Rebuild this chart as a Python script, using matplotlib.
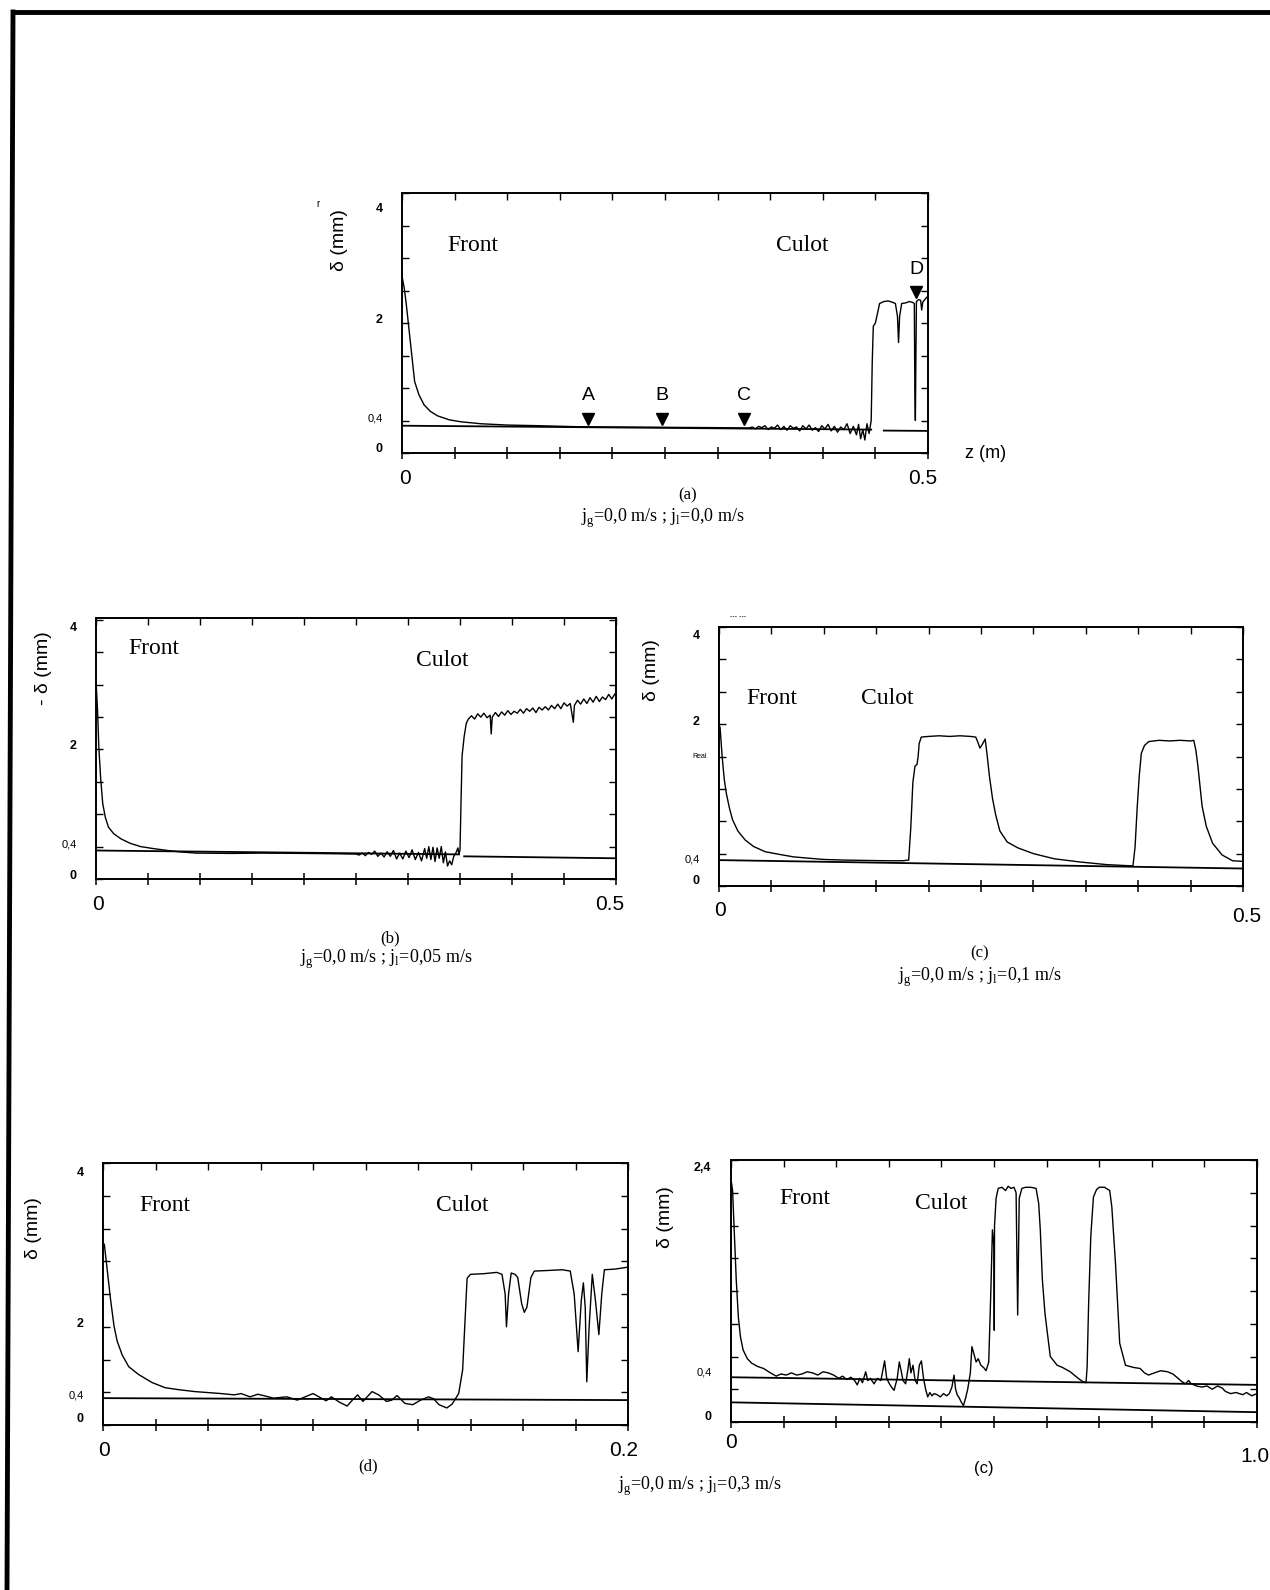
import numpy as np
import matplotlib
matplotlib.use("Agg")
import matplotlib.pyplot as plt
from matplotlib.lines import Line2D
from matplotlib.ticker import MultipleLocator

plt.rcParams['mathtext.fontset'] = 'custom'
plt.rcParams['mathtext.rm'] = 'Liberation Serif'
SANS = 'Liberation Sans'
SERIF = 'Liberation Serif'

# ---------------- data (panel a) ----------------
a_x = [0, 0.002, 0.004, 0.006, 0.009, 0.012, 0.016, 0.021, 0.027, 0.034, 0.045, 0.056, 0.075, 0.10, 0.13,
       0.165, 0.20, 0.25, 0.30, 0.33,
       0.333, 0.336, 0.339, 0.342, 0.345, 0.348, 0.351, 0.354, 0.357, 0.360, 0.363, 0.366, 0.369, 0.372,
       0.375, 0.378, 0.381, 0.384, 0.387, 0.390, 0.393, 0.396, 0.399, 0.402, 0.405, 0.408, 0.411, 0.414,
       0.417, 0.420, 0.423, 0.426, 0.429, 0.432, 0.434, 0.436, 0.438, 0.440, 0.442, 0.444, 0.446,
       0.447, 0.448, 0.450, 0.452, 0.454, 0.458, 0.462, 0.466, 0.469, 0.471, 0.472, 0.473, 0.475, 0.479,
       0.482, 0.485, 0.487, 0.4875, 0.488, 0.4885, 0.489, 0.491, 0.493, 0.494, 0.495, 0.497, 0.499, 0.5]
a_y = [2.72, 2.55, 2.30, 2.00, 1.55, 1.10, 0.90, 0.74, 0.64, 0.57, 0.51, 0.48, 0.45, 0.43, 0.42,
       0.405, 0.40, 0.395, 0.39, 0.385,
       0.40, 0.37, 0.41, 0.39, 0.42, 0.36, 0.40, 0.38, 0.43, 0.36, 0.41, 0.35, 0.42, 0.38,
       0.40, 0.34, 0.42, 0.37, 0.43, 0.35, 0.39, 0.33, 0.42, 0.37, 0.44, 0.34, 0.41, 0.32,
       0.40, 0.36, 0.45, 0.30, 0.41, 0.28, 0.44, 0.22, 0.36, 0.20, 0.45, 0.30, 0.50,
       1.40, 1.95, 2.00, 2.15, 2.30, 2.33, 2.34, 2.32, 2.30, 2.10, 1.70, 2.10, 2.30, 2.31,
       2.33, 2.32, 2.30, 1.00, 0.50, 1.50, 2.33, 2.36, 2.35, 2.20, 2.32, 2.36, 2.40, 2.38]
a_ref1_x = [0, 0.446]
a_ref1_y = [0.42, 0.36]
a_ref2_x = [0.458, 0.5]
a_ref2_y = [0.345, 0.34]
a_mark_labels = ['A', 'B', 'C', 'D']
a_mark_x = [0.177, 0.247, 0.325, 0.489]
a_mark_y = [0.53, 0.53, 0.53, 2.47]

# ---------------- data (panel b) ----------------
b_x = [0, 0.0015, 0.0027, 0.0045, 0.0065, 0.009, 0.012, 0.017, 0.024, 0.033, 0.043, 0.055, 0.069, 0.08,
       0.096, 0.13, 0.16, 0.2, 0.23, 0.25,
       0.253, 0.256, 0.259, 0.262, 0.265, 0.268, 0.271, 0.274, 0.277, 0.280, 0.283, 0.286, 0.289, 0.292,
       0.295, 0.298, 0.301, 0.304, 0.307, 0.310, 0.313, 0.316, 0.318, 0.320, 0.322, 0.324, 0.326, 0.328,
       0.330, 0.332, 0.334, 0.336, 0.338, 0.340, 0.342, 0.344, 0.346, 0.348, 0.349, 0.350,
       0.351, 0.352, 0.354, 0.356, 0.358,
       0.361, 0.364, 0.367, 0.370, 0.373, 0.376, 0.379, 0.380, 0.381, 0.384, 0.387, 0.390, 0.393, 0.396,
       0.399, 0.402, 0.405, 0.408, 0.411, 0.414, 0.417, 0.420, 0.423, 0.426, 0.429, 0.432, 0.435, 0.438,
       0.441, 0.444, 0.447, 0.450, 0.453, 0.456, 0.459, 0.460, 0.463, 0.466, 0.469, 0.472, 0.475, 0.478,
       0.481, 0.484, 0.487, 0.490, 0.493, 0.496, 0.499, 0.5]
b_y = [3.07, 2.60, 2.04, 1.55, 1.16, 0.95, 0.80, 0.70, 0.62, 0.55, 0.50, 0.47, 0.44, 0.42,
       0.40, 0.395, 0.40, 0.395, 0.39, 0.385,
       0.37, 0.40, 0.36, 0.41, 0.38, 0.43, 0.35, 0.40, 0.34, 0.42, 0.35, 0.44, 0.31, 0.40,
       0.31, 0.43, 0.33, 0.45, 0.30, 0.41, 0.28, 0.47, 0.32, 0.50, 0.30, 0.49, 0.27, 0.48,
       0.32, 0.50, 0.25, 0.42, 0.20, 0.28, 0.22, 0.35, 0.40, 0.48, 0.38, 0.45,
       1.20, 1.90, 2.20, 2.40, 2.47,
       2.52, 2.47, 2.55, 2.50, 2.56, 2.49, 2.53, 2.24, 2.50, 2.57, 2.51, 2.58, 2.53, 2.60,
       2.54, 2.59, 2.56, 2.62, 2.56, 2.63, 2.59, 2.64, 2.57, 2.65, 2.61, 2.66, 2.61, 2.68,
       2.63, 2.70, 2.63, 2.72, 2.67, 2.71, 2.42, 2.68, 2.76, 2.70, 2.78, 2.71, 2.80, 2.73,
       2.82, 2.74, 2.81, 2.77, 2.85, 2.78, 2.86, 2.82]
b_ref1_x = [0, 0.349]
b_ref1_y = [0.44, 0.38]
b_ref2_x = [0.354, 0.5]
b_ref2_y = [0.35, 0.32]

# ---------------- data (panel c) ----------------
c_x = [0, 0.001, 0.003, 0.005, 0.007, 0.010, 0.013, 0.018, 0.025, 0.033, 0.044, 0.057, 0.071, 0.085,
       0.10, 0.12, 0.14, 0.16, 0.175, 0.181, 0.183, 0.185, 0.187, 0.189, 0.190, 0.191, 0.193,
       0.20, 0.21, 0.22, 0.23, 0.24, 0.245, 0.247, 0.249, 0.251, 0.254,
       0.256, 0.258, 0.261, 0.264, 0.268, 0.275, 0.285, 0.30, 0.32, 0.345, 0.37, 0.395,
       0.397, 0.399, 0.401, 0.403, 0.406, 0.41, 0.42, 0.43, 0.44, 0.45, 0.453,
       0.455, 0.457, 0.459, 0.461, 0.465, 0.471, 0.480, 0.490, 0.5]
c_y = [2.49, 2.45, 2.00, 1.65, 1.43, 1.20, 1.02, 0.85, 0.71, 0.61, 0.53, 0.49, 0.45, 0.43,
       0.41, 0.40, 0.395, 0.39, 0.39, 0.40, 0.90, 1.60, 1.85, 1.88, 2.00, 2.20, 2.30,
       2.31, 2.32, 2.31, 2.32, 2.31, 2.30, 2.22, 2.13, 2.18, 2.27,
       2.00, 1.70, 1.35, 1.10, 0.85, 0.68, 0.59, 0.50, 0.42, 0.37, 0.33, 0.31,
       0.60, 1.20, 1.70, 2.05, 2.17, 2.23, 2.25, 2.24, 2.25, 2.24, 2.25,
       2.10, 1.85, 1.54, 1.23, 0.92, 0.66, 0.48, 0.39, 0.38]
c_ref_x = [0, 0.5]
c_ref_y = [0.40, 0.27]

# ---------------- data (panel d) ----------------
d_x = [0.0005, 0.0016, 0.0029, 0.0042, 0.0054, 0.0073, 0.0098, 0.0136, 0.0186, 0.0236, 0.0287, 0.035,
       0.045, 0.050, 0.0526, 0.056, 0.059, 0.065, 0.070, 0.074, 0.080, 0.085, 0.087, 0.090, 0.093, 0.095,
       0.097, 0.099, 0.1025, 0.105, 0.108, 0.110, 0.112, 0.115, 0.118, 0.121, 0.124, 0.126, 0.128,
       0.131, 0.133, 0.1355, 0.137, 0.1387, 0.140, 0.145, 0.150, 0.152, 0.1532, 0.1537, 0.1545, 0.1555,
       0.157, 0.158, 0.1595, 0.1605, 0.1615, 0.163, 0.1643, 0.170, 0.175, 0.178, 0.1795, 0.181, 0.1822,
       0.183, 0.1837, 0.1843, 0.1852, 0.1864, 0.1876, 0.1889, 0.1900, 0.191, 0.195, 0.2]
d_y = [2.76, 2.37, 1.91, 1.51, 1.28, 1.07, 0.89, 0.77, 0.65, 0.57, 0.54, 0.51,
       0.48, 0.46, 0.48, 0.43, 0.47, 0.41, 0.43, 0.38, 0.48, 0.37, 0.43, 0.35, 0.29, 0.38,
       0.46, 0.36, 0.51, 0.46, 0.36, 0.38, 0.45, 0.33, 0.31, 0.38, 0.43, 0.40, 0.31,
       0.26, 0.32, 0.48, 0.84, 2.24, 2.30, 2.31, 2.33, 2.30, 2.00, 1.50, 2.00, 2.32,
       2.30, 2.25, 1.85, 1.72, 1.80, 2.25, 2.35, 2.36, 2.37, 2.35, 2.00, 1.12, 1.90,
       2.17, 1.80, 0.66, 1.50, 2.30, 1.90, 1.38, 2.00, 2.37, 2.38, 2.41]
d_ref_x = [0, 0.2]
d_ref_y = [0.41, 0.38]

# ---------------- data (panel e) ----------------
e_x = [0.001, 0.003, 0.006, 0.010, 0.014, 0.018, 0.023, 0.031, 0.039, 0.050, 0.062, 0.075, 0.086, 0.095,
       0.105, 0.115, 0.125, 0.135, 0.145, 0.155, 0.165, 0.175, 0.185, 0.195, 0.205, 0.212, 0.220, 0.228,
       0.235, 0.240, 0.245, 0.250, 0.256, 0.260, 0.265, 0.272, 0.278, 0.285, 0.292, 0.296, 0.300, 0.305,
       0.310, 0.316, 0.320, 0.323, 0.327, 0.332, 0.336, 0.339, 0.342, 0.346, 0.350, 0.354, 0.358, 0.362,
       0.366, 0.370, 0.374, 0.378, 0.382, 0.386, 0.392, 0.398, 0.404, 0.410, 0.415, 0.420, 0.424, 0.427,
       0.430, 0.434, 0.438, 0.442, 0.446, 0.450, 0.455, 0.458, 0.462, 0.466, 0.470, 0.475, 0.480, 0.485,
       0.490, 0.494, 0.497, 0.500, 0.5005, 0.501, 0.504, 0.508, 0.515, 0.522, 0.527, 0.532, 0.538, 0.542,
       0.545, 0.548, 0.553, 0.560, 0.570, 0.580, 0.585, 0.588, 0.592, 0.597, 0.607, 0.62, 0.63, 0.645,
       0.66, 0.669, 0.675, 0.677, 0.680, 0.684, 0.689, 0.695, 0.70, 0.71, 0.72, 0.724, 0.731, 0.739,
       0.75, 0.765, 0.778, 0.786, 0.794, 0.805, 0.817, 0.83, 0.84, 0.85, 0.857, 0.864, 0.870, 0.875,
       0.885, 0.895, 0.905, 0.915, 0.925, 0.934, 0.94, 0.95, 0.96, 0.973, 0.98, 0.99, 1.0]
e_y = [2.19, 2.12, 1.76, 1.30, 0.96, 0.78, 0.66, 0.58, 0.54, 0.51, 0.49, 0.45, 0.42, 0.44,
       0.43, 0.45, 0.43, 0.44, 0.46, 0.45, 0.43, 0.46, 0.45, 0.43, 0.40, 0.42, 0.39, 0.41,
       0.38, 0.34, 0.40, 0.36, 0.46, 0.38, 0.40, 0.35, 0.40, 0.38, 0.56, 0.40, 0.36, 0.32,
       0.29, 0.40, 0.55, 0.48, 0.38, 0.35, 0.47, 0.58, 0.45, 0.52, 0.38, 0.35, 0.52, 0.56,
       0.40, 0.30, 0.23, 0.27, 0.24, 0.26, 0.25, 0.23, 0.26, 0.24, 0.26, 0.32, 0.43, 0.30,
       0.25, 0.22, 0.18, 0.15, 0.22, 0.30, 0.45, 0.69, 0.62, 0.55, 0.58, 0.52, 0.50, 0.47,
       0.55, 1.20, 1.76, 1.60, 0.84, 1.80, 2.05, 2.14, 2.15, 2.12, 2.16, 2.14, 2.15, 2.10,
       0.98, 2.05, 2.14, 2.15, 2.15, 2.14, 2.00, 1.76, 1.30, 0.99, 0.60, 0.52, 0.50, 0.46,
       0.40, 0.37, 0.36, 0.50, 1.10, 1.70, 2.06, 2.13, 2.15, 2.15, 2.12, 1.97, 1.45, 0.72,
       0.52, 0.50, 0.49, 0.45, 0.43, 0.45, 0.47, 0.46, 0.44, 0.40, 0.37, 0.35, 0.38, 0.35,
       0.33, 0.32, 0.33, 0.30, 0.33, 0.31, 0.28, 0.26, 0.27, 0.25, 0.27, 0.24, 0.26]
e_ref1_x = [0, 1.0]
e_ref1_y = [0.41, 0.34]
e_ref2_x = [0, 1.0]
e_ref2_y = [0.18, 0.09]

# tick label texts and positions as they appear on each panel
a_ytick_pos = [3.78, 2.07, 0.55, 0.09]
a_ytick_lab = ['4', '2', '0,4', '0']
b_ytick_pos = [3.90, 2.07, 0.55, 0.07]
b_ytick_lab = ['4', '2', '0,4', '0']
c_ytick_pos = [3.88, 2.55, 0.43, 0.10]
c_ytick_lab = ['4', '2', '0,4', '0']
d_ytick_pos = [3.87, 1.57, 0.46, 0.12]
d_ytick_lab = ['4', '2', '0,4', '0']
e_ytick_pos = [2.34, 0.46, 0.06]
e_ytick_lab = ['2,4', '0,4', '0']

W, H = 1270, 1590
fig = plt.figure(figsize=(W / 100, H / 100), dpi=100)


def rect(l, t, r, b):
    return [l / W, 1 - b / H, (r - l) / W, (b - t) / H]


def ft(x, y, s, **kw):
    kw.setdefault('ha', 'center')
    kw.setdefault('va', 'center')
    fig.text(x / W, 1 - y / H, s, **kw)


def panel(r, xmax, xstep, ymax, ystep, ypos, ylab):
    ax = fig.add_axes(rect(*r))
    ax.set_xlim(0, xmax)
    ax.set_ylim(0, ymax)
    for s in ax.spines.values():
        s.set_linewidth(1.4)
    ax.xaxis.set_major_locator(MultipleLocator(xstep))
    ax.tick_params(axis='x', which='major', direction='inout', length=9, width=1.1,
                   bottom=True, top=False, labelbottom=False)
    ax.yaxis.remove_overlapping_locs = False
    ax.yaxis.set_minor_locator(MultipleLocator(ystep))
    ax.tick_params(axis='y', which='minor', direction='in', length=5, width=1.0,
                   left=True, right=True)
    ax.set_yticks(ypos)
    ax.set_yticklabels(ylab)
    ax.tick_params(axis='y', which='major', length=0, pad=14)
    for t in ax.get_yticklabels():
        t.set_family(SANS)
        if t.get_text() == '0,4':
            t.set_fontsize(8)
        else:
            t.set_fontsize(9)
            t.set_fontweight('bold')
    axt = ax.twiny()
    axt.set_xlim(0, xmax)
    axt.xaxis.set_major_locator(MultipleLocator(xstep))
    axt.tick_params(axis='x', direction='in', length=5, width=1.0, labeltop=False)
    for s in axt.spines.values():
        s.set_visible(False)
    return ax


lk = dict(color='black', lw=1.0)

# ---- (a)
ax = panel((402, 193, 928, 453), 0.5, 0.05, 4.0, 0.5, a_ytick_pos, a_ytick_lab)
ax.plot(a_x, a_y, **lk)
ax.plot(a_ref1_x, a_ref1_y, color='black', lw=1.3)
ax.plot(a_ref2_x, a_ref2_y, color='black', lw=1.3)
ax.plot(a_mark_x, a_mark_y, 'v', color='black', ms=9, ls='none')
for lab, mx, my in zip(a_mark_labels, a_mark_x, a_mark_y):
    ax.text(mx, my + 0.36, lab, ha='center', va='center', fontsize=14, family=SANS)
ax.text(0.067, 3.2, 'Front', ha='center', va='center', fontsize=17, family=SERIF)
ax.text(0.38, 3.2, 'Culot', ha='center', va='center', fontsize=17, family=SERIF)
ft(339, 240, 'δ (mm)', rotation=90, fontsize=14, family=SANS)
ft(318, 204, 'r', fontsize=7, family=SANS)
ft(986, 453, 'z (m)', fontsize=13, family=SANS)
ft(405, 479, '0', fontsize=15, family=SANS)
ft(923, 479, '0.5', fontsize=15, family=SANS)
ft(688, 495, '(a)', fontsize=12, family=SERIF)
ft(663, 518, r'j$_{\mathregular{g}}$=0,0 m/s ; j$_{\mathregular{l}}$=0,0 m/s', fontsize=13, family=SERIF)

# ---- (b)
ax = panel((96, 618, 616, 879), 0.5, 0.05, 4.03, 0.5, b_ytick_pos, b_ytick_lab)
ax.plot(b_x, b_y, **lk)
ax.plot(b_ref1_x, b_ref1_y, color='black', lw=1.3)
ax.plot(b_ref2_x, b_ref2_y, color='black', lw=1.3)
ax.text(0.056, 3.56, 'Front', ha='center', va='center', fontsize=17, family=SERIF)
ax.text(0.333, 3.38, 'Culot', ha='center', va='center', fontsize=17, family=SERIF)
ft(44, 668, '- δ (mm)', rotation=90, fontsize=14, family=SANS)
ft(98, 904, '0', fontsize=15, family=SANS)
ft(610, 904, '0.5', fontsize=15, family=SANS)
ft(390, 938, '(b)', fontsize=12, family=SERIF)
ft(386, 959, r'j$_{\mathregular{g}}$=0,0 m/s ; j$_{\mathregular{l}}$=0,05 m/s', fontsize=13, family=SERIF)

# ---- (c)
ax = panel((719, 627, 1243, 886), 0.5, 0.05, 4.0, 0.5, c_ytick_pos, c_ytick_lab)
ax.plot(c_x, c_y, **lk)
ax.plot(c_ref_x, c_ref_y, color='black', lw=1.3)
ax.text(0.05, 2.9, 'Front', ha='center', va='center', fontsize=17, family=SERIF)
ax.text(0.161, 2.9, 'Culot', ha='center', va='center', fontsize=17, family=SERIF)
ft(652, 670, 'δ (mm)', rotation=90, fontsize=14, family=SANS)
ft(700, 757, 'Real', fontsize=5, family=SANS)
ft(738, 617, '--- ---', fontsize=5, family=SANS)
ft(720, 911, '0', fontsize=15, family=SANS)
ft(1247, 916, '0.5', fontsize=15, family=SANS)
ft(980, 953, '(c)', fontsize=12, family=SERIF)
ft(980, 977, r'j$_{\mathregular{g}}$=0,0 m/s ; j$_{\mathregular{l}}$=0,1 m/s', fontsize=13, family=SERIF)

# ---- (d)
ax = panel((103, 1163, 628, 1425), 0.2, 0.02, 4.0, 0.5, d_ytick_pos, d_ytick_lab)
ax.plot(d_x, d_y, **lk)
ax.plot(d_ref_x, d_ref_y, color='black', lw=1.3)
ax.text(0.0235, 3.35, 'Front', ha='center', va='center', fontsize=17, family=SERIF)
ax.text(0.137, 3.35, 'Culot', ha='center', va='center', fontsize=17, family=SERIF)
ft(34, 1228, 'δ (mm)', rotation=90, fontsize=14, family=SANS)
ft(104, 1451, '0', fontsize=15, family=SANS)
ft(624, 1451, '0.2', fontsize=15, family=SANS)
ft(368, 1466, '(d)', fontsize=12, family=SERIF)

# ---- (e)
ax = panel((731, 1160, 1257, 1422), 1.0, 0.1, 2.4, 0.3, e_ytick_pos, e_ytick_lab)
ax.plot(e_x, e_y, **lk)
ax.plot(e_ref1_x, e_ref1_y, color='black', lw=1.3)
ax.plot(e_ref2_x, e_ref2_y, color='black', lw=1.3)
ax.text(0.14, 2.05, 'Front', ha='center', va='center', fontsize=17, family=SERIF)
ax.text(0.40, 2.0, 'Culot', ha='center', va='center', fontsize=17, family=SERIF)
ft(665, 1217, 'δ (mm)', rotation=90, fontsize=14, family=SANS)
ft(731, 1443, '0', fontsize=15, family=SANS)
ft(1255, 1456, '1.0', fontsize=15, family=SANS)
ft(984, 1468, '(c)', fontsize=12, family=SANS)
ft(700, 1486, r'j$_{\mathregular{g}}$=0,0 m/s ; j$_{\mathregular{l}}$=0,3 m/s', fontsize=13, family=SERIF)

# page border (left and top edges of the scanned sheet)
fig.add_artist(Line2D([13 / W, 1.0], [1 - 12 / H, 1 - 12 / H], transform=fig.transFigure,
                      color='black', lw=3.5))
fig.add_artist(Line2D([13 / W, 7 / W], [1 - 12 / H, 0.0], transform=fig.transFigure,
                      color='black', lw=3.5))

fig.savefig('out.png', dpi=100)
